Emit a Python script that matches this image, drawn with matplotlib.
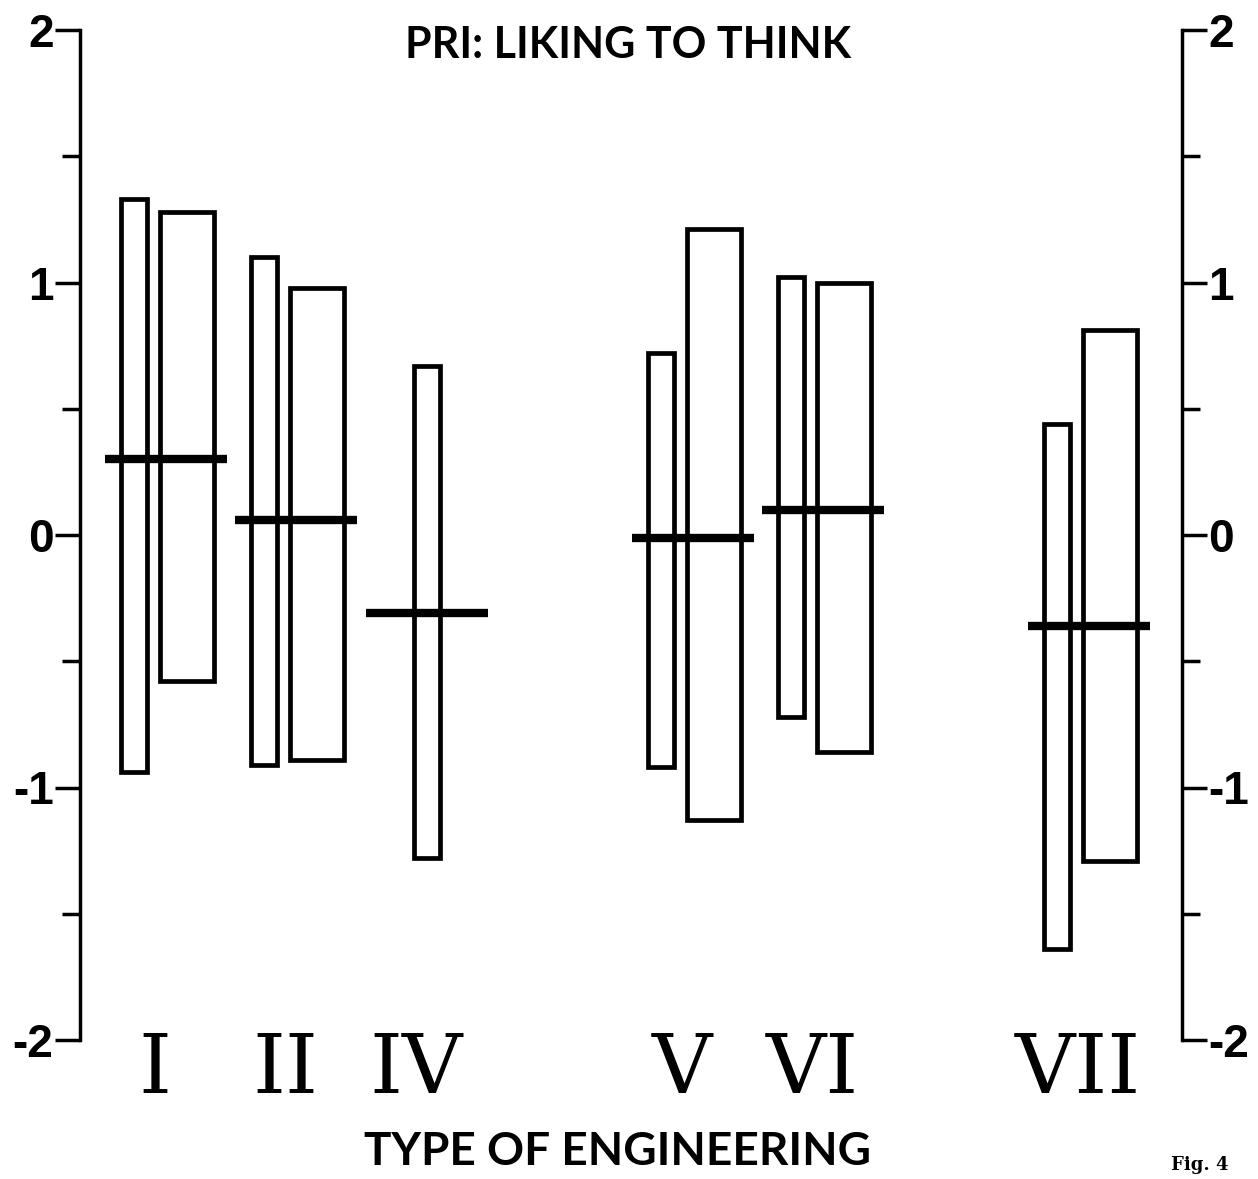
import numpy as np
import matplotlib
matplotlib.use("Agg")
import matplotlib.pyplot as plt
from matplotlib.ticker import FixedLocator, FixedFormatter

# ---------------- data ----------------
title = "PRI: LIKING TO THINK"
xlabel = "TYPE OF ENGINEERING"
fig_note = "Fig. 4"
categories = ["I", "II", "IV", "V", "VI", "VII"]
narrow_low = [-0.94, -0.91, -1.28, -0.92, -0.72, -1.64]
narrow_high = [1.33, 1.10, 0.67, 0.72, 1.02, 0.44]
wide_low = [-0.58, -0.89, np.nan, -1.13, -0.86, -1.29]
wide_high = [1.28, 0.98, np.nan, 1.21, 1.00, 0.81]
means = [0.30, 0.06, -0.31, -0.01, 0.10, -0.36]
y_major = [-2, -1, 0, 1, 2]
y_major_labels = ["-2", "-1", "0", "1", "2"]
y_minor = [-1.5, -0.5, 0.5, 1.5]

# ---------------- layout ----------------
group_x = np.array([0.855, 2.16, 3.47, 6.125, 7.43, 10.09])
narrow_off, wide_off = -0.32, 0.21
narrow_w, wide_w = 0.26, 0.54
mean_half = 0.61
label_off = -0.11

plt.rcParams["axes.unicode_minus"] = False
plt.rcParams["font.family"] = ["Liberation Sans", "DejaVu Sans"]
plt.rcParams["font.weight"] = "bold"

W, H = 1258, 1179
fig = plt.figure(figsize=(W / 100, H / 100), dpi=100)
ax = fig.add_axes([80 / W, (H - 1040) / H, 1102 / W, 1010 / H])
ax.set_xlim(0, 11.02)
ax.set_ylim(-2, 2)

nl = np.array(narrow_low)
nh = np.array(narrow_high)
wl = np.array(wide_low)
wh = np.array(wide_high)
has_wide = ~np.isnan(wl)
nx = np.where(has_wide, group_x + narrow_off, group_x)

ax.bar(nx, nh - nl, width=narrow_w, bottom=nl, fill=False,
       edgecolor="black", linewidth=3.4)
ax.bar(group_x[has_wide] + wide_off, (wh - wl)[has_wide], width=wide_w,
       bottom=wl[has_wide], fill=False, edgecolor="black", linewidth=3.4)
ax.hlines(means, group_x - mean_half, group_x + mean_half, colors="black",
          linewidth=6)

for s in ("top", "bottom"):
    ax.spines[s].set_visible(False)
for s in ("left", "right"):
    ax.spines[s].set_linewidth(2.5)

ax.set_xticks([])
ax.yaxis.set_major_locator(FixedLocator(y_major))
ax.yaxis.set_major_formatter(FixedFormatter(y_major_labels))
ax.yaxis.set_minor_locator(FixedLocator(y_minor))
ax.tick_params(axis="y", which="both", direction="out", left=True, right=True,
               labelleft=True, labelright=True, width=2.5, pad=1,
               labelsize=33)
ax.tick_params(axis="y", which="major", length=18)
ax.tick_params(axis="y", which="minor", length=13)

for x, lab in zip(group_x + label_off, categories):
    ax.text(x, -1.96, lab, ha="center", va="top", fontsize=60,
            family="DejaVu Serif", fontweight="normal", clip_on=False)

fig.text(628 / W, 1 - 45 / H, title, ha="center", va="center", fontsize=31,
         family=["Lato", "Liberation Sans", "DejaVu Sans"], fontweight="bold")
fig.text(618 / W, 1 - 1152 / H, xlabel, ha="center", va="center",
         fontsize=33, family=["Lato", "Liberation Sans", "DejaVu Sans"],
         fontweight="bold")
fig.text(1200 / W, 1 - 1165 / H, fig_note, ha="center", va="center",
         fontsize=13, family="DejaVu Serif", fontweight="bold")

fig.savefig("out.png", dpi=100, facecolor="white")
